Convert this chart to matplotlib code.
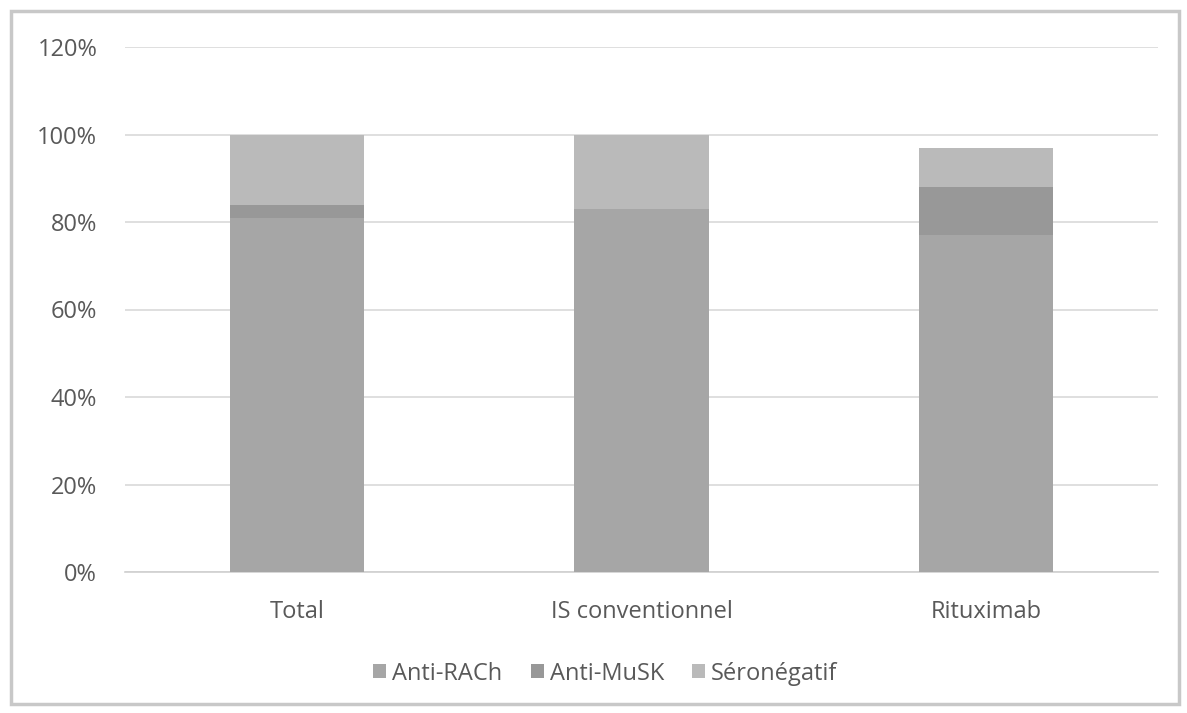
import matplotlib
matplotlib.use("Agg")
import matplotlib.pyplot as plt
from matplotlib.patches import Rectangle
from matplotlib.ticker import FuncFormatter

categories = ["Total", "IS conventionnel", "Rituximab"]
anti_rach = [81, 83, 77]
anti_musk = [3, 0, 11]
seronegatif = [16, 17, 9]
series_names = ["Anti-RACh", "Anti-MuSK", "Séronégatif"]
colors = ["#a6a6a6", "#989898", "#bababa"]

plt.rcParams["font.family"] = ["Open Sans", "DejaVu Sans"]

fig = plt.figure(figsize=(11.87, 7.13), dpi=100)
fig.patches.append(Rectangle((0.009, 0.012), 0.984, 0.972, transform=fig.transFigure,
                             fill=False, edgecolor="#c8c8c8", linewidth=2.5))
ax = fig.add_axes([125 / 1187, 1 - 572 / 713, (1158 - 125) / 1187, (572 - 47) / 713])

x = range(len(categories))
width = 0.39
bottom = [0] * len(categories)
for vals, name, col in zip([anti_rach, anti_musk, seronegatif], series_names, colors):
    ax.bar(x, vals, width, bottom=bottom, color=col, label=name, zorder=3)
    bottom = [b + v for b, v in zip(bottom, vals)]

ax.set_xlim(-0.5, 2.5)
ax.set_ylim(0, 120)
ax.set_yticks(range(0, 121, 20))
ax.yaxis.set_major_formatter(FuncFormatter(lambda v, p: f"{int(v)}%"))
ax.set_xticks(list(x))
ax.set_xticklabels(categories)
ax.grid(axis="y", color="#d9d9d9", linewidth=1.2, zorder=0)
for s in ["top", "right", "left"]:
    ax.spines[s].set_visible(False)
ax.spines["bottom"].set_color("#d0d0d0")
ax.spines["bottom"].set_linewidth(1.2)
ax.tick_params(axis="both", length=0, labelsize=17, colors="#595959")
ax.tick_params(axis="y", pad=20)
ax.tick_params(axis="x", pad=20)

leg = ax.legend(loc="upper center", bbox_to_anchor=(0.465, -0.13), ncol=3, frameon=False,
                fontsize=17, handlelength=0.55, handleheight=0.55, handletextpad=0.25,
                columnspacing=1.2, labelcolor="#595959")

fig.savefig("out.png", dpi=100)
